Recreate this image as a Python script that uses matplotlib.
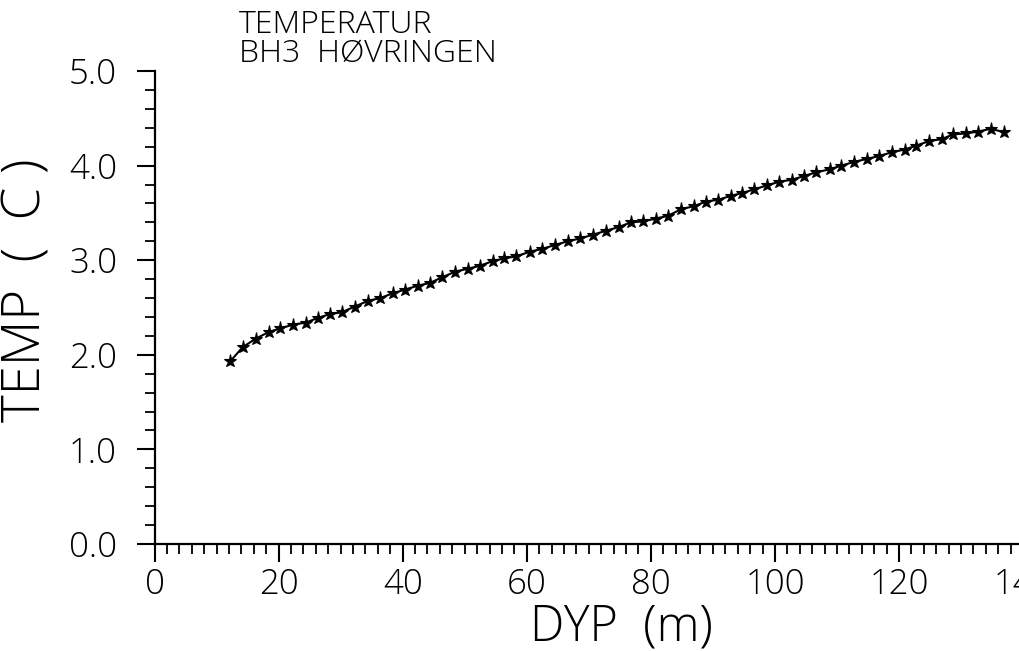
import matplotlib
matplotlib.use("Agg")
import matplotlib.pyplot as plt
from matplotlib.ticker import MultipleLocator, FormatStrFormatter

# Borehole BH3 Hovringen: temperature readings against depth
depth = [12.2, 14.2, 16.3, 18.4, 20.3, 22.4, 24.4, 26.3, 28.3, 30.2,
         32.3, 34.4, 36.4, 38.4, 40.4, 42.4, 44.4, 46.4, 48.5, 50.5,
         52.4, 54.5, 56.4, 58.3, 60.5, 62.5, 64.5, 66.6, 68.6, 70.7,
         72.7, 74.8, 76.8, 78.7, 80.8, 82.8, 84.9, 86.9, 88.9, 90.9,
         92.9, 94.7, 96.7, 98.7, 100.7, 102.7, 104.7, 106.7, 108.8, 110.7,
         112.8, 114.8, 116.7, 118.8, 120.9, 122.7, 124.9, 126.9, 128.7, 130.8,
         132.8, 134.8, 137.0]
temp = [1.93, 2.08, 2.17, 2.24, 2.28, 2.32, 2.34, 2.39, 2.43, 2.45,
        2.51, 2.57, 2.60, 2.65, 2.69, 2.73, 2.76, 2.82, 2.88, 2.91,
        2.94, 2.99, 3.02, 3.04, 3.09, 3.12, 3.16, 3.20, 3.23, 3.27,
        3.31, 3.35, 3.40, 3.41, 3.44, 3.47, 3.54, 3.57, 3.62, 3.64,
        3.68, 3.71, 3.75, 3.79, 3.83, 3.85, 3.89, 3.93, 3.96, 4.00,
        4.04, 4.07, 4.10, 4.14, 4.17, 4.21, 4.26, 4.28, 4.33, 4.34,
        4.36, 4.39, 4.35]

title = "TEMPERATUR\nBH3  HØVRINGEN"
x_label = "DYP  (m)"
y_label = "TEMP  (  C )"

plt.rcParams["font.family"] = ["Open Sans", "Liberation Sans", "DejaVu Sans"]
plt.rcParams["font.weight"] = "light"

W, H = 1019, 651
fig = plt.figure(figsize=(W / 100, H / 100), dpi=100)
ax = fig.add_axes([154.5 / W, 107 / H, 868.6 / W, 473 / H])

ax.plot(depth, temp, color="black", linewidth=1.5, marker="*",
        markersize=9.5, markeredgewidth=0.8, clip_on=False)

ax.set_xlim(0, 140)
ax.set_ylim(0, 5)
ax.spines["top"].set_visible(False)
ax.spines["right"].set_visible(False)
for side in ("left", "bottom"):
    ax.spines[side].set_linewidth(1.6)

ax.xaxis.set_major_locator(MultipleLocator(20))
ax.xaxis.set_minor_locator(MultipleLocator(2))
ax.yaxis.set_major_locator(MultipleLocator(1))
ax.yaxis.set_minor_locator(MultipleLocator(0.2))
ax.yaxis.set_major_formatter(FormatStrFormatter("%.1f"))

ax.tick_params(axis="both", which="major", length=13, width=1.5,
               labelsize=25, direction="out")
ax.tick_params(axis="both", which="minor", length=7, width=1.3,
               direction="out")
ax.tick_params(axis="y", which="major", pad=14)
ax.tick_params(axis="x", which="major", pad=4)

fig.text(239 / W, 1 - 9 / H, title, fontsize=23, linespacing=0.88,
         ha="left", va="top")
fig.text(530 / W, 1 - 640 / H, x_label, fontsize=35,
         ha="left", va="baseline")
fig.text(27 / W, 1 - 290 / H, y_label, fontsize=38, rotation=90,
         ha="center", va="center")

fig.savefig("out.png", dpi=100)
